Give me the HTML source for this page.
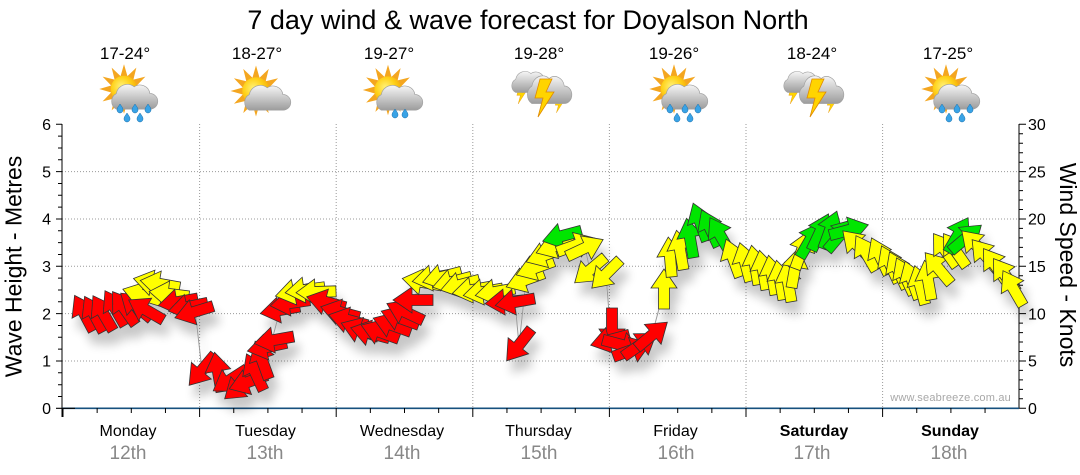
<!DOCTYPE html>
<html><head><meta charset="utf-8">
<style>
html,body{margin:0;padding:0;background:#fff;}
svg{display:block;font-family:"Liberation Sans",Arial,sans-serif;}
.r{fill:#ff0000}.y{fill:#ffff00}.g{fill:#00e600}
</style></head>
<body>
<svg width="1080" height="475" viewBox="0 0 1080 475" xmlns="http://www.w3.org/2000/svg">
<defs>
<path id="a" d="M-20,-5.5H1V-13L20,0L1,13V5.5H-20Z" stroke="#333" stroke-width="0.8"/>
<filter id="sh" x="-5%" y="-30%" width="115%" height="180%">
<feGaussianBlur in="SourceAlpha" stdDeviation="5"/>
<feOffset dx="5" dy="12"/>
<feComponentTransfer><feFuncA type="linear" slope="0.22"/></feComponentTransfer>
<feMerge><feMergeNode/><feMergeNode in="SourceGraphic"/></feMerge>
</filter>
<radialGradient id="sunG" cx="0.4" cy="0.4" r="0.7">
<stop offset="0" stop-color="#fff27a"/><stop offset="0.5" stop-color="#ffd21a"/><stop offset="1" stop-color="#f2a000"/>
</radialGradient>
<linearGradient id="cloudG" x1="0" y1="0" x2="0" y2="1">
<stop offset="0" stop-color="#f6f6f6"/><stop offset="1" stop-color="#9c9c9c"/>
</linearGradient>
<g id="sun">
<polygon fill="#f4a620" points="0,-26 3.62,-13.52 13,-22.52 9.9,-9.9 22.52,-13 13.52,-3.62 26,0 13.52,3.62 22.52,13 9.9,9.9 13,22.52 3.62,13.52 0,26 -3.62,13.52 -13,22.52 -9.9,9.9 -22.52,13 -13.52,3.62 -26,0 -13.52,-3.62 -22.52,-13 -9.9,-9.9 -13,-22.52 -3.62,-13.52"/>
<circle r="14" fill="url(#sunG)"/>
</g>
<path id="cloud" d="M-14,10A8,8 0 0 1 -14,-4A10,10 0 0 1 2,-10A9,9 0 0 1 16,-4A7,7 0 0 1 16,10Z" fill="url(#cloudG)" stroke="#a0a0a0" stroke-width="0.6"/>
<path id="drop" d="M0,-4C2,-1 3,0 3,2A3,3 0 0 1 -3,2C-3,0 -2,-1 0,-4Z" fill="#39a3e6" stroke="#1c6ea8" stroke-width="0.5"/>
<path id="bolt" d="M-2,-16L10,-16L4,-3L12,-3L-4,22L1,3L-7,3Z" fill="#ffd400" stroke="#e08a00" stroke-width="0.8"/>
<g id="icRain">
<use href="#sun" transform="translate(-2,-5) scale(0.95)"/>
<use href="#cloud" transform="translate(6,4) scale(1.12)"/>
<use href="#drop" transform="translate(-6,14)"/>
<use href="#drop" transform="translate(9,14)"/>
<use href="#drop" transform="translate(22,14)"/>
<use href="#drop" transform="translate(1,23)"/>
<use href="#drop" transform="translate(14,23)"/>
</g>
<g id="icCloud">
<use href="#sun" transform="translate(-2,-3) scale(0.98)"/>
<use href="#cloud" transform="translate(7,5) scale(1.12)"/>
</g>
<g id="icLight">
<use href="#sun" transform="translate(-2,-4) scale(0.97)"/>
<use href="#cloud" transform="translate(7,5) scale(1.12)"/>
<use href="#drop" transform="translate(5,19)"/>
<use href="#drop" transform="translate(15,19)"/>
</g>
<g id="icStorm">
<use href="#bolt" transform="translate(-20,0) scale(0.45)"/>
<use href="#cloud" transform="translate(-11,-11) scale(0.95)"/>
<use href="#bolt" transform="translate(18,10) scale(0.4)"/>
<use href="#cloud" transform="translate(7,-3) scale(1.08,1.25)"/>
<use href="#bolt" transform="translate(2,1)"/>
</g>
</defs>

<!-- Title -->
<text x="528" y="29" font-size="27" text-anchor="middle" fill="#000">7 day wind &amp; wave forecast for Doyalson North</text>

<!-- temps -->
<g font-size="17" text-anchor="middle" fill="#000">
<text x="125" y="59">17-24°</text>
<text x="257" y="59">18-27°</text>
<text x="389" y="59">19-27°</text>
<text x="539" y="59">19-28°</text>
<text x="674" y="59">19-26°</text>
<text x="812" y="59">18-24°</text>
<text x="948" y="59">17-25°</text>
</g>

<!-- icons -->
<use href="#icRain" transform="translate(126,94)"/>
<use href="#icCloud" transform="translate(258,94)"/>
<use href="#icLight" transform="translate(390,94)"/>
<use href="#icStorm" transform="translate(540,94)"/>
<use href="#icRain" transform="translate(676,94)"/>
<use href="#icStorm" transform="translate(812,94)"/>
<use href="#icRain" transform="translate(948,94)"/>

<!-- gridlines -->
<g stroke="#9a9a9a" stroke-width="1" stroke-dasharray="1,2" fill="none">
<path d="M62,361H1019M62,313.6H1019M62,266.3H1019M62,219H1019M62,171.6H1019"/>
<path d="M199.6,124V408M336.2,124V408M472.8,124V408M609.4,124V408M746,124V408M882.6,124V408"/>
</g>

<!-- left axis -->
<g stroke="#000" stroke-width="1" fill="none">
<path d="M62,124V417"/>
<path d="M56,124.3H62M56,171.6H62M56,219H62M56,266.3H62M56,313.6H62M56,361H62"/>
<path d="M58,396.5H62M58,384.7H62M58,372.8H62M58,349.1H62M58,337.3H62M58,325.5H62M58,301.8H62M58,290H62M58,278.1H62M58,254.5H62M58,242.6H62M58,230.8H62M58,207.1H62M58,195.3H62M58,183.5H62M58,159.8H62M58,148H62M58,136.1H62"/>
</g>
<g font-size="16" text-anchor="end" fill="#000">
<text x="51" y="130">6</text>
<text x="51" y="177.4">5</text>
<text x="51" y="224.7">4</text>
<text x="51" y="272">3</text>
<text x="51" y="319.4">2</text>
<text x="51" y="366.7">1</text>
<text x="51" y="414">0</text>
</g>
<text transform="translate(21.5,266.5) rotate(-90)" font-size="23" text-anchor="middle" fill="#000">Wave Height - Metres</text>

<!-- right axis -->
<g stroke="#000" stroke-width="1" fill="none">
<path d="M1019,124V408"/>
<path d="M1019,124.3H1026M1019,171.6H1026M1019,219H1026M1019,266.3H1026M1019,313.6H1026M1019,361H1026M1019,408.3H1026"/>
<path d="M1019,398.8H1023M1019,389.4H1023M1019,379.9H1023M1019,370.4H1023M1019,351.5H1023M1019,342H1023M1019,332.6H1023M1019,323.1H1023M1019,304.2H1023M1019,294.7H1023M1019,285.2H1023M1019,275.8H1023M1019,256.8H1023M1019,247.4H1023M1019,237.9H1023M1019,228.4H1023M1019,209.5H1023M1019,200H1023M1019,190.6H1023M1019,181.1H1023M1019,162.2H1023M1019,152.7H1023M1019,143.2H1023M1019,133.8H1023"/>
</g>
<g font-size="16" text-anchor="start" fill="#000">
<text x="1028" y="130">30</text>
<text x="1028" y="177.4">25</text>
<text x="1028" y="224.7">20</text>
<text x="1028" y="272">15</text>
<text x="1028" y="319.4">10</text>
<text x="1028" y="366.7">5</text>
<text x="1028" y="414">0</text>
</g>
<text transform="translate(1060,265) rotate(90)" font-size="23" text-anchor="middle" fill="#000">Wind Speed - Knots</text>

<!-- bottom axis -->
<path d="M62,408.3H1019" stroke="#16507e" stroke-width="1.6"/>
<path d="M56,408.3H75" stroke="#000" stroke-width="1.2"/>
<g stroke="#000" stroke-width="1">
<path d="M63,408V417M199.6,408V417M336.2,408V417M472.8,408V417M609.4,408V417M746,408V417M882.6,408V417"/>
<path d="M97.15,408V413M131.3,408V413M165.45,408V413M233.75,408V413M267.9,408V413M302.05,408V413M370.35,408V413M404.5,408V413M438.65,408V413M506.95,408V413M541.1,408V413M575.25,408V413M643.55,408V413M677.7,408V413M711.85,408V413M780.15,408V413M814.3,408V413M848.45,408V413M916.75,408V413M950.9,408V413M985.05,408V413"/>
</g>
<text x="1011" y="401" font-size="11" text-anchor="end" fill="#a8a8a8" letter-spacing="0.2">www.seabreeze.com.au</text>

<g font-size="16" text-anchor="middle" fill="#000">
<text x="128" y="436">Monday</text>
<text x="265.5" y="436">Tuesday</text>
<text x="402" y="436">Wednesday</text>
<text x="538.5" y="436">Thursday</text>
<text x="675.5" y="436">Friday</text>
<text x="814" y="436" font-weight="bold">Saturday</text>
<text x="950" y="436" font-weight="bold">Sunday</text>
</g>
<g font-size="19" text-anchor="middle" fill="#888">
<text x="128" y="459">12th</text>
<text x="265" y="459">13th</text>
<text x="402" y="459">14th</text>
<text x="539" y="459">15th</text>
<text x="676" y="459">16th</text>
<text x="812" y="459">17th</text>
<text x="949" y="459">18th</text>
</g>

<!-- arrows -->
<g filter="url(#sh)">
<polyline fill="none" stroke="#999" stroke-width="1" points="84,313 101,313 115,308 124,308 136,302 142,295 153,282 160,283 169,294 178,302 188,307 196,318 202,370 218,372 230,380 240,386 248,382 255,372 262,360 267,347 272,340 280,310 290,303 295,292 305,290 316,292 326,302 340,312 348,320 360,330 370,333 380,332 392,325 400,318 405,312 413,300 422,282 432,278 442,277 452,282 460,285 472,290 483,292 495,292 505,302 515,302 519,345 525,290 535,268 545,255 555,246 562,236 576,245 585,248 590,270 606,274 609,313 612,328 608,340 622,345 632,350 640,345 652,335 660,305 664,289 670,257 680,250 690,238 700,222 710,228 720,235 733,258 745,262 755,265 763,270 772,275 780,280 788,282 795,268 802,250 810,240 820,232 830,230 840,235 849,230 857,245 866,253 880,256 890,264 898,270 905,276 912,280 920,285 928,280 938,268 945,248 955,250 958,235 966,238 976,245 985,255 995,265 1005,275 1015,290"/>
<use href="#a" class="r" transform="translate(84,313) rotate(-118)"/>
<use href="#a" class="r" transform="translate(94,314) rotate(-118)"/>
<use href="#a" class="r" transform="translate(103,313) rotate(-120)"/>
<use href="#a" class="r" transform="translate(115,308) rotate(-120)"/>
<use href="#a" class="r" transform="translate(124,308) rotate(-125)"/>
<use href="#a" class="r" transform="translate(136,306) rotate(-140)"/>
<use href="#a" class="y" transform="translate(142,295) rotate(-163)"/>
<use href="#a" class="y" transform="translate(153,283) rotate(-167)"/>
<use href="#a" class="y" transform="translate(160,284) rotate(-170)"/>
<use href="#a" class="y" transform="translate(169,294) rotate(-173)"/>
<use href="#a" class="r" transform="translate(146,310) rotate(-150)"/>
<use href="#a" class="r" transform="translate(178,302) rotate(170)"/>
<use href="#a" class="r" transform="translate(188,307) rotate(168)"/>
<use href="#a" class="r" transform="translate(194,312) rotate(163)"/>

<use href="#a" class="r" transform="translate(202,370) rotate(130)"/>
<use href="#a" class="r" transform="translate(218,372) rotate(-100)"/>
<use href="#a" class="r" transform="translate(230,380) rotate(147)"/>
<use href="#a" class="r" transform="translate(240,386) rotate(140)"/>
<use href="#a" class="r" transform="translate(248,382) rotate(160)"/>
<use href="#a" class="r" transform="translate(255,372) rotate(-115)"/>
<use href="#a" class="r" transform="translate(262,360) rotate(-110)"/>
<use href="#a" class="r" transform="translate(267,347) rotate(168)"/>
<use href="#a" class="r" transform="translate(274,340) rotate(170)"/>
<use href="#a" class="r" transform="translate(280,310) rotate(170)"/>
<use href="#a" class="r" transform="translate(290,303) rotate(172)"/>
<use href="#a" class="y" transform="translate(295,292) rotate(168)"/>
<use href="#a" class="y" transform="translate(305,290) rotate(172)"/>
<use href="#a" class="y" transform="translate(316,292) rotate(178)"/>
<use href="#a" class="r" transform="translate(326,302) rotate(-165)"/>

<use href="#a" class="r" transform="translate(340,312) rotate(-165)"/>
<use href="#a" class="r" transform="translate(348,320) rotate(-165)"/>
<use href="#a" class="r" transform="translate(360,330) rotate(-160)"/>
<use href="#a" class="r" transform="translate(370,333) rotate(-165)"/>
<use href="#a" class="r" transform="translate(380,332) rotate(-160)"/>
<use href="#a" class="r" transform="translate(392,325) rotate(-160)"/>
<use href="#a" class="r" transform="translate(400,318) rotate(-160)"/>
<use href="#a" class="r" transform="translate(405,312) rotate(-155)"/>
<use href="#a" class="r" transform="translate(413,300) rotate(180)"/>
<use href="#a" class="y" transform="translate(422,282) rotate(-170)"/>
<use href="#a" class="y" transform="translate(432,278) rotate(170)"/>
<use href="#a" class="y" transform="translate(442,277) rotate(165)"/>
<use href="#a" class="y" transform="translate(452,282) rotate(165)"/>
<use href="#a" class="y" transform="translate(460,285) rotate(165)"/>
<use href="#a" class="y" transform="translate(472,290) rotate(170)"/>

<use href="#a" class="y" transform="translate(483,292) rotate(170)"/>
<use href="#a" class="y" transform="translate(495,292) rotate(170)"/>
<use href="#a" class="r" transform="translate(505,302) rotate(175)"/>
<use href="#a" class="r" transform="translate(515,302) rotate(170)"/>
<use href="#a" class="r" transform="translate(519,345) rotate(128)"/>
<use href="#a" class="y" transform="translate(525,280) rotate(160)"/>
<use href="#a" class="y" transform="translate(535,268) rotate(160)"/>
<use href="#a" class="y" transform="translate(545,255) rotate(160)"/>
<use href="#a" class="y" transform="translate(555,246) rotate(160)"/>
<use href="#a" class="g" transform="translate(562,236) rotate(165)"/>
<use href="#a" class="y" transform="translate(576,245) rotate(-20)"/>
<use href="#a" class="y" transform="translate(585,248) rotate(-25)"/>
<use href="#a" class="y" transform="translate(590,270) rotate(140)"/>
<use href="#a" class="y" transform="translate(606,274) rotate(135)"/>

<use href="#a" class="r" transform="translate(612,328) rotate(90)"/>
<use href="#a" class="r" transform="translate(610,340) rotate(165)"/>
<use href="#a" class="r" transform="translate(622,345) rotate(15)"/>
<use href="#a" class="r" transform="translate(632,350) rotate(-20)"/>
<use href="#a" class="r" transform="translate(640,345) rotate(-35)"/>
<use href="#a" class="r" transform="translate(652,335) rotate(-40)"/>
<use href="#a" class="y" transform="translate(664,289) rotate(-90)"/>
<use href="#a" class="y" transform="translate(670,257) rotate(-95)"/>
<use href="#a" class="y" transform="translate(680,250) rotate(-100)"/>
<use href="#a" class="g" transform="translate(690,238) rotate(-100)"/>
<use href="#a" class="g" transform="translate(700,222) rotate(-110)"/>
<use href="#a" class="g" transform="translate(710,228) rotate(-115)"/>
<use href="#a" class="g" transform="translate(720,235) rotate(-120)"/>
<use href="#a" class="y" transform="translate(733,258) rotate(-110)"/>
<use href="#a" class="y" transform="translate(745,262) rotate(-105)"/>

<use href="#a" class="y" transform="translate(755,265) rotate(-100)"/>
<use href="#a" class="y" transform="translate(763,270) rotate(-100)"/>
<use href="#a" class="y" transform="translate(772,275) rotate(-100)"/>
<use href="#a" class="y" transform="translate(780,280) rotate(-100)"/>
<use href="#a" class="y" transform="translate(788,282) rotate(-100)"/>
<use href="#a" class="y" transform="translate(795,268) rotate(-80)"/>
<use href="#a" class="y" transform="translate(802,250) rotate(-70)"/>
<use href="#a" class="g" transform="translate(810,240) rotate(-60)"/>
<use href="#a" class="g" transform="translate(820,232) rotate(-65)"/>
<use href="#a" class="g" transform="translate(830,230) rotate(-70)"/>
<use href="#a" class="g" transform="translate(840,235) rotate(-50)"/>
<use href="#a" class="g" transform="translate(849,230) rotate(-15)"/>
<use href="#a" class="y" transform="translate(857,245) rotate(-135)"/>
<use href="#a" class="y" transform="translate(866,253) rotate(-120)"/>
<use href="#a" class="y" transform="translate(880,256) rotate(-115)"/>
<use href="#a" class="y" transform="translate(890,264) rotate(-115)"/>
<use href="#a" class="y" transform="translate(898,270) rotate(-115)"/>

<use href="#a" class="y" transform="translate(905,276) rotate(-115)"/>
<use href="#a" class="y" transform="translate(912,280) rotate(-110)"/>
<use href="#a" class="y" transform="translate(920,285) rotate(-105)"/>
<use href="#a" class="y" transform="translate(928,280) rotate(-100)"/>
<use href="#a" class="y" transform="translate(938,268) rotate(-130)"/>
<use href="#a" class="y" transform="translate(945,250) rotate(-125)"/>
<use href="#a" class="y" transform="translate(955,250) rotate(-125)"/>
<use href="#a" class="g" transform="translate(958,235) rotate(-60)"/>
<use href="#a" class="g" transform="translate(966,238) rotate(-40)"/>
<use href="#a" class="y" transform="translate(976,245) rotate(-135)"/>
<use href="#a" class="y" transform="translate(985,255) rotate(-130)"/>
<use href="#a" class="y" transform="translate(995,265) rotate(-125)"/>
<use href="#a" class="y" transform="translate(1005,275) rotate(-125)"/>
<use href="#a" class="y" transform="translate(1013,288) rotate(-120)"/>
</g>
</svg>
</body></html>
